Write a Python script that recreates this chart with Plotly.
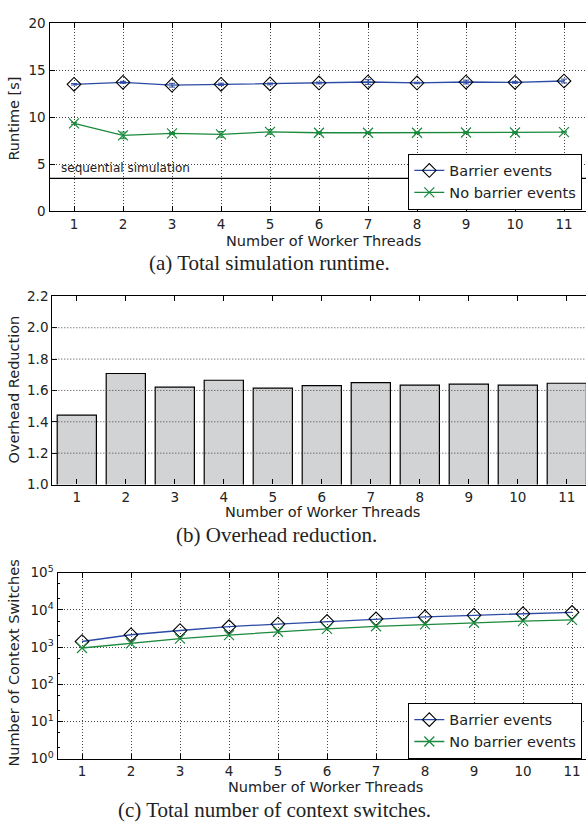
import plotly.graph_objects as go

threads = list(range(1, 12))
tick_labels = [str(t) for t in threads]

# (a) runtime [s]
runtime_barrier = [13.49, 13.70, 13.39, 13.49, 13.53, 13.63, 13.73, 13.63, 13.73, 13.70, 13.84]
runtime_barrier_err = [0.08, 0.10, 0.20, 0.12, 0.10, 0.10, 0.25, 0.08, 0.20, 0.10, 0.20]
runtime_nobarrier = [9.34, 8.06, 8.27, 8.17, 8.44, 8.34, 8.34, 8.34, 8.37, 8.37, 8.41]
runtime_nobarrier_err = [0.10, 0.35, 0.10, 0.30, 0.25, 0.10, 0.08, 0.08, 0.08, 0.08, 0.08]
sequential_runtime = 3.5

# (b) overhead reduction
overhead_reduction = [1.442, 1.708, 1.621, 1.665, 1.615, 1.631, 1.650, 1.634, 1.640, 1.634, 1.646]

# (c) context switches
ctx_barrier = [1410, 2140, 2780, 3540, 4150, 4870, 5720, 6450, 7130, 7880, 8550]
ctx_nobarrier = [944, 1250, 1690, 2100, 2570, 3080, 3610, 4080, 4500, 4970, 5380]

ya_ticks = [0, 5, 10, 15, 20]
yb_ticks = [1.0, 1.2, 1.4, 1.6, 1.8, 2.0, 2.2]
yb_grid = [1.2, 1.4, 1.6, 1.8, 2.0]
yc_ticks = [0, 1, 2, 3, 4, 5]

W, H = 586, 833
BLUE = "#2b4aa6"
GREEN = "#1a8a3c"
SANS = "DejaVu Sans"
SERIF = "Liberation Serif"
TXT = "#222222"

def px(x):
    return x / W

def py(y):
    return 1 - y / H

fig = go.Figure()

# ---- panel (a)
fig.add_trace(go.Scatter(
    x=threads, y=runtime_barrier, name="Barrier events", mode="lines+markers",
    line=dict(color=BLUE, width=1.3),
    marker=dict(symbol="diamond-open", size=10.5, color="black", line=dict(width=1.1)),
    error_y=dict(type="data", array=runtime_barrier_err, color=BLUE, thickness=1, width=3),
    xaxis="x", yaxis="y", legend="legend"))
fig.add_trace(go.Scatter(
    x=threads, y=runtime_nobarrier, name="No barrier events", mode="lines+markers",
    line=dict(color=GREEN, width=1.3),
    marker=dict(symbol="x-thin-open", size=10, color=GREEN, line=dict(width=1.2, color=GREEN)),
    error_y=dict(type="data", array=runtime_nobarrier_err, color=GREEN, thickness=1, width=3),
    xaxis="x", yaxis="y", legend="legend"))

# ---- panel (b)
fig.add_trace(go.Bar(
    x=threads, y=overhead_reduction, base=0, width=0.8,
    marker=dict(color="#d2d3d5", line=dict(color="black", width=1.2)),
    showlegend=False, xaxis="x2", yaxis="y2"))

# ---- panel (c)
fig.add_trace(go.Scatter(
    x=threads, y=ctx_barrier, name="Barrier events", mode="lines+markers",
    line=dict(color=BLUE, width=1.3),
    marker=dict(symbol="diamond-open", size=10.5, color="black", line=dict(width=1.1)),
    xaxis="x3", yaxis="y3", legend="legend2"))
fig.add_trace(go.Scatter(
    x=threads, y=ctx_nobarrier, name="No barrier events", mode="lines+markers",
    line=dict(color=GREEN, width=1.3),
    marker=dict(symbol="x-thin-open", size=10, color=GREEN, line=dict(width=1.2, color=GREEN)),
    xaxis="x3", yaxis="y3", legend="legend2"))

grid_style = dict(showgrid=True, gridcolor="#444444", gridwidth=1, griddash="1px,2px")
tickfont = dict(family=SANS, size=13.5, color=TXT)

def xaxis(left, anchor, showgrid=True):
    d = dict(domain=[px(left), 1], anchor=anchor,
             range=[0.5, 0.5 + (W - left) / 49.0],
             tickmode="array", tickvals=threads, ticktext=tick_labels,
             ticks="inside", ticklen=5, tickcolor="black",
             showline=True, linecolor="black", linewidth=1.2, mirror="ticks",
             tickfont=tickfont, zeroline=False)
    if showgrid:
        d.update(grid_style)
    else:
        d["showgrid"] = False
    return d

legend_style = dict(xanchor="right", yanchor="top", bgcolor="white",
                    bordercolor="black", borderwidth=1, tracegroupgap=2,
                    font=dict(family=SANS, size=14.5, color=TXT))

layout = dict(
    width=W, height=H, margin=dict(l=0, r=0, t=0, b=0),
    paper_bgcolor="white", plot_bgcolor="white",
    font=dict(family=SANS, color=TXT),
    xaxis=xaxis(49.5, "y"),
    yaxis=dict(domain=[py(205.7), py(13.3)], anchor="x", range=[0, 20],
               tickmode="array", tickvals=ya_ticks, ticktext=[str(v) for v in ya_ticks],
               ticks="inside", ticklen=5, tickcolor="black",
               showline=True, linecolor="black", linewidth=1.2, mirror=False,
               tickfont=tickfont, zeroline=False, **grid_style),
    xaxis2=xaxis(52.3, "y2", showgrid=False),
    yaxis2=dict(domain=[py(485), py(292.7)], anchor="x2", range=[1.0, 2.2],
                tickmode="array", tickvals=yb_ticks, ticktext=[f"{v:.1f}" for v in yb_ticks],
                ticks="inside", ticklen=5, tickcolor="black",
                showline=True, linecolor="black", linewidth=1.2, mirror=False,
                tickfont=tickfont, zeroline=False, showgrid=False),
    xaxis3=xaxis(57.5, "y3"),
    yaxis3=dict(domain=[py(765.3), py(575)], anchor="x3", type="log", range=[0, 5],
                tickmode="array", tickvals=[10 ** v for v in yc_ticks],
                ticktext=[f"10<sup>{v}</sup>" for v in yc_ticks],
                ticks="inside", ticklen=5, tickcolor="black",
                minor=dict(ticks="inside", ticklen=2, tickcolor="black", showgrid=False),
                showline=True, linecolor="black", linewidth=1.2, mirror=False,
                tickfont=tickfont, zeroline=False, **grid_style),
    legend=dict(x=px(582.3), y=py(146.7), **legend_style),
    legend2=dict(x=px(582.3), y=py(708), **legend_style),
    bargap=0.2,
)
fig.update_layout(**layout)

# sequential simulation reference line
fig.add_shape(type="line", xref="x domain", yref="y", x0=0, x1=1,
              y0=sequential_runtime, y1=sequential_runtime,
              line=dict(color="black", width=1.2), layer="above")
fig.add_annotation(text="sequential simulation", xref="x domain", yref="y",
                   x=0.018, y=sequential_runtime, xanchor="left", yanchor="bottom",
                   yshift=1, showarrow=False, font=dict(family=SANS, size=12, color=TXT))

# dotted grid drawn above the bars in panel (b)
for g in yb_grid:
    fig.add_shape(type="line", xref="x2 domain", yref="y2", x0=0, x1=1, y0=g, y1=g,
                  line=dict(color="#444444", width=1, dash="1px,2px"), layer="above")

# axis titles and captions
def ann(text, x, y, size, family=SANS, angle=0):
    fig.add_annotation(text=text, xref="paper", yref="paper", x=px(x), y=py(y),
                       xanchor="center", yanchor="middle", showarrow=False,
                       textangle=angle, font=dict(family=family, size=size, color=TXT))

ann("Runtime [s]", 14, 111, 14.5, angle=-90)
ann("Overhead Reduction", 14, 388, 14.5, angle=-90)
ann("Number of Context Switches", 14, 668, 14.5, angle=-90)
ann("Number of Worker Threads", 323, 236, 14.5)
ann("Number of Worker Threads", 322, 513, 14.5)
ann("Number of Worker Threads", 325, 794, 14.5)
ann("(a) Total simulation runtime.", 269, 259, 21, family=SERIF)
ann("(b) Overhead reduction.", 276, 537, 21, family=SERIF)
ann("(c) Total number of context switches.", 274, 818, 21, family=SERIF)

fig.write_html("out.html", config={"displayModeBar": False},
               post_script="document.body.style.margin='0';document.body.style.overflow='hidden';")
